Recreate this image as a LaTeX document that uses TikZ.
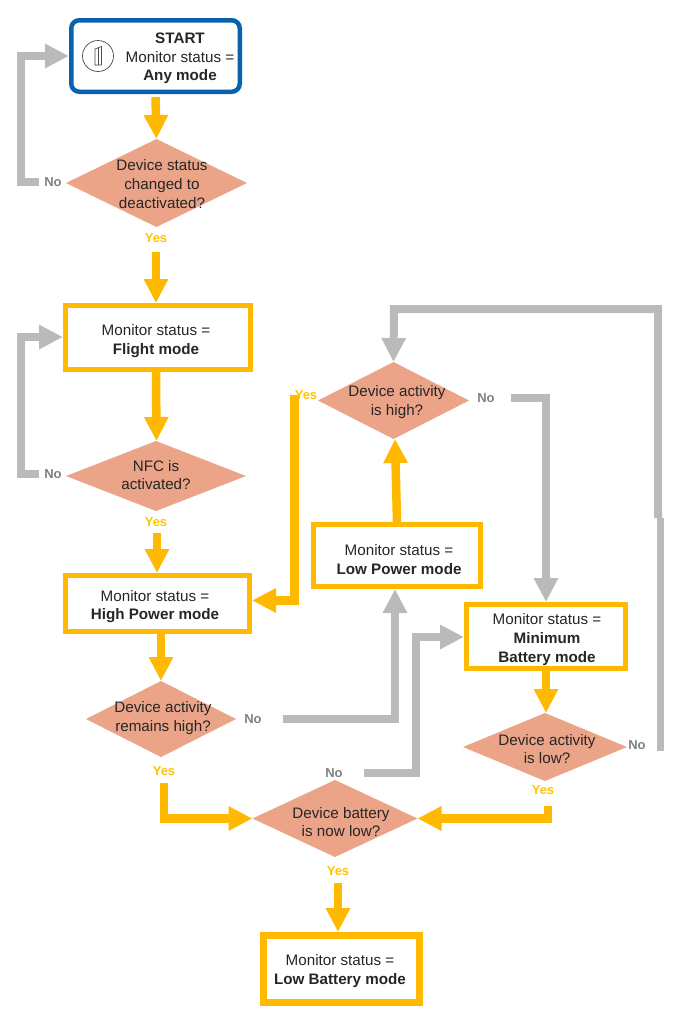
\documentclass[tikz,border=0pt]{standalone}
\usepackage{fontspec}
\setmainfont{Liberation Sans}
\usetikzlibrary{shapes.geometric,arrows.meta}
\definecolor{amber}{HTML}{FFB900}
\definecolor{linkgray}{HTML}{BABABA}
\definecolor{salmon}{HTML}{EBA488}
\definecolor{startblue}{HTML}{0A62AE}
\tikzset{
  every node/.style={font=\fontsize{15.2}{18.6}\selectfont,text=black!85},
  statebox/.style={draw=amber,line width=5.3pt,fill=white,inner sep=0pt},
  question/.style={diamond,fill=salmon,inner sep=0pt,outer sep=0pt},
  asktext/.style={align=center,inner sep=0pt},
  yeslabel/.style={font=\fontsize{13}{15}\selectfont\bfseries,text=amber!85!yellow,inner sep=0pt},
  nolabel/.style={font=\fontsize{13}{15}\selectfont\bfseries,text=black!50,inner sep=0pt},
  yeslink/.style={draw=amber,line width=8.5pt,-{Triangle[width=23pt,length=24pt]}},
  nolink/.style={draw=linkgray,line width=8pt,-{Triangle[width=23pt,length=24pt]}}
}
\begin{document}
\begin{tikzpicture}[x=1pt,y=-1pt]
  \useasboundingbox (0,0) rectangle (688,1029);

  % boxes
  \node[draw=startblue,line width=4.5pt,rounded corners=8pt,fill=white,minimum width=168.5pt,minimum height=71.5pt,outer sep=2.25pt] (start) at (155.5,56) {};
  \node[asktext] (starttext) at (180,58.5) {\textbf{START}\\Monitor status =\\\textbf{Any mode}};
  \node[draw=black!70,line width=0.7pt,circle,minimum size=31pt,inner sep=0pt] (doorring) at (98,56) {};
  \draw[black!70,line width=0.7pt,fill=white] (95,49) -- (101.5,46.5) -- (101.5,65) -- (95,65) -- cycle;
  \draw[black!70,line width=0.7pt] (98,48) -- (98,65);
  \node[statebox,minimum width=184.7pt,minimum height=63.7pt] (flight) at (158,337.5) {};
  \node[asktext] (flighttext) at (156,341) {Monitor status =\\\textbf{Flight mode}};
  \node[statebox,minimum width=183.7pt,minimum height=55.7pt] (highpower) at (157.5,603.5) {};
  \node[asktext] (highpowertext) at (155,606.5) {Monitor status =\\\textbf{High Power mode}};
  \node[statebox,minimum width=166.7pt,minimum height=61.7pt] (lowpower) at (397,555.5) {};
  \node[asktext] (lowpowertext) at (399,559.5) {Monitor status =\\\textbf{Low Power mode}};
  \node[statebox,minimum width=158.7pt,minimum height=63.7pt] (minbattery) at (546,636.5) {};
  \node[asktext] (minbatterytext) at (547,639.5) {Monitor status =\\\textbf{Minimum}\\\textbf{Battery mode}};
  \node[statebox,line width=7pt,minimum width=156pt,minimum height=67pt] (lowbattery) at (341,969) {};
  \node[asktext] (lowbatterytext) at (340,971) {Monitor status =\\\textbf{Low Battery mode}};

  % decisions
  \node[question,minimum width=181pt,minimum height=88pt] (askchanged) at (156.5,183) {};
  \node[asktext] (askchangedtext) at (162,184) {Device status\\changed to\\deactivated?};
  \node[question,minimum width=180pt,minimum height=70pt] (asknfc) at (156,476) {};
  \node[asktext] (asknfctext) at (156,475) {NFC is\\activated?};
  \node[question,minimum width=150pt,minimum height=76pt] (askremains) at (161,719) {};
  \node[asktext] (askremainstext) at (163,718) {Device activity\\remains high?};
  \node[question,minimum width=151pt,minimum height=77pt] (askhigh) at (393.5,400.5) {};
  \node[asktext] (askhightext) at (397,402) {Device activity\\is high?};
  \node[question,minimum width=164pt,minimum height=68pt] (asklow) at (545,747) {};
  \node[asktext] (asklowtext) at (547,749) {Device activity\\is low?};
  \node[question,minimum width=165pt,minimum height=77pt] (askbattery) at (335,818.5) {};
  \node[asktext] (askbatterytext) at (341,822) {Device battery\\is now low?};

  % yes and no tags
  \node[yeslabel] (yeschanged) at (156,238) {Yes};
  \node[nolabel] (nochanged) at (53,182) {No};
  \node[yeslabel] (yesnfc) at (156,522) {Yes};
  \node[nolabel] (nonfc) at (53,474) {No};
  \node[yeslabel] (yesremains) at (164,771) {Yes};
  \node[nolabel] (noremains) at (253,719) {No};
  \node[yeslabel] (yeshigh) at (306,395) {Yes};
  \node[nolabel] (nohigh) at (486,398) {No};
  \node[yeslabel] (yeslow) at (543,790) {Yes};
  \node[nolabel] (nolow) at (637,745) {No};
  \node[yeslabel] (yesbattery) at (338,871) {Yes};
  \node[nolabel] (nobattery) at (334,773) {No};

  % free ends and bends
  \coordinate (leftrail) at (21,300);
  \coordinate (nfcturn) at (21,337);
  \coordinate (topleft) at (394,309);
  \coordinate (topright) at (658,309);
  \coordinate (railjoin) at (658,518);
  \coordinate (railjoinlow) at (660,518);
  \coordinate (railend) at (660,751);

  % yes path
  \draw[yeslink] (start.south) ++(0,3) -- (askchanged.north);
  \draw[yeslink] (yeschanged.south) ++(0,9) -- (yeschanged.south |- flight.north);
  \draw[yeslink] (yeschanged.south |- flight.south) -- (askchanged.south |- asknfc.north);
  \draw[yeslink] (yesnfc.south) ++(1,6) -- ([xshift=1pt]yesnfc.south |- highpower.north);
  \draw[yeslink] (askremains.north |- highpower.south) -- (askremains.north);
  \draw[yeslink,shorten <=7pt] (yesremains.south) |- (askbattery.west);
  \draw[yeslink] (yesbattery.south) ++(0,7) -- (yesbattery.south |- lowbattery.north);
  \draw[yeslink] (lowpower.north) -- ([xshift=1.5pt]askhigh.south);
  \draw[yeslink] (yeshigh.west) |- ([yshift=3pt]highpower.east);
  \draw[yeslink] (minbattery.south) -- (minbattery.south |- asklow.north);
  \draw[yeslink,shorten <=11pt] (yeslow.south -| 548,0) |- (askbattery.east);

  % no path
  \draw[nolink,shorten <=5pt] (nochanged.west) -| (leftrail |- start.west) -- (start.west);
  \draw[nolink,shorten <=5pt] (nonfc.west) -| (nfcturn) -- (flight.west |- nfcturn);
  \draw[nolink,shorten <=21pt] (noremains.east) -| ([xshift=-2pt]lowpower.south);
  \draw[nolink,shorten <=16pt] (nohigh.east) -| (minbattery.north);
  \draw[nolink,shorten <=21pt] (nobattery.east) -| (416,637) -- (minbattery.west |- 0,637);
  \draw[draw=linkgray,line width=7pt] (railend) -- (railjoinlow);
  \draw[nolink] (railjoin) -- (topright) -- (topleft) -- (askhigh.north);
\end{tikzpicture}
\end{document}
